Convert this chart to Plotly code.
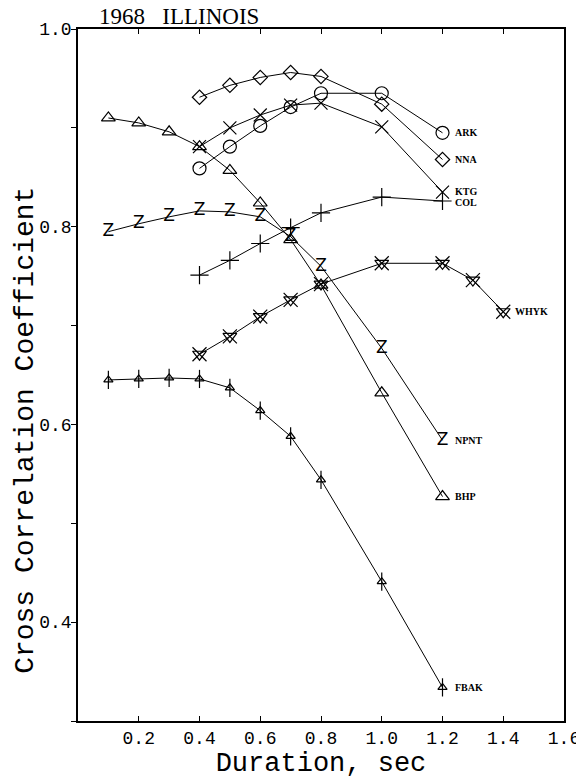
import plotly.graph_objects as go

# ---- data ----
x_short = [0.4, 0.5, 0.6, 0.7, 0.8, 1.0, 1.2]
ark = [0.859, 0.881, 0.902, 0.921, 0.935, 0.935, 0.895]
nna = [0.931, 0.943, 0.951, 0.956, 0.952, 0.924, 0.868]
ktg = [0.881, 0.900, 0.913, 0.923, 0.925, 0.901, 0.835]
col = [0.751, 0.766, 0.783, 0.799, 0.814, 0.830, 0.826]

x_long = [0.1, 0.2, 0.3, 0.4, 0.5, 0.6, 0.7, 0.8, 1.0, 1.2]
bhp = [0.910, 0.905, 0.896, 0.881, 0.857, 0.824, 0.787, 0.741, 0.632, 0.527]
npnt = [0.795, 0.803, 0.810, 0.816, 0.815, 0.810, 0.790, 0.760, 0.677, 0.584]
fbak = [0.645, 0.646, 0.647, 0.646, 0.637, 0.614, 0.588, 0.544, 0.441, 0.334]

x_whyk = [0.4, 0.5, 0.6, 0.7, 0.8, 1.0, 1.2, 1.3, 1.4]
whyk = [0.671, 0.689, 0.709, 0.726, 0.742, 0.763, 0.763, 0.746, 0.714]

x_ticks = [0.2, 0.4, 0.6, 0.8, 1.0, 1.2, 1.4, 1.6]
x_ticktext = ["0.2", "0.4", "0.6", "0.8", "1.0", "1.2", "1.4", "1.6"]
y_ticks = [0.3, 0.4, 0.5, 0.6, 0.7, 0.8, 0.9, 1.0]
y_ticktext = ["", "0.4", "", "0.6", "", "0.8", "", "1.0"]

title_text = "1968\u00a0\u00a0\u00a0ILLINOIS"
x_title = "Duration, sec"
y_title = "Cross Correlation Coefficient"

BLACK = "black"
# the page body has an 8px margin, so the figure is offset by 8px
W, H = 584, 779
fig = go.Figure()

def add_series(x, y, symbol, size, name):
    fig.add_trace(go.Scatter(
        x=x, y=y, mode="lines+markers", name=name,
        line=dict(color=BLACK, width=1),
        marker=dict(symbol=symbol, size=size, color=BLACK,
                    line=dict(color=BLACK, width=1.2)),
        showlegend=False, cliponaxis=False))

def add_overlay(x, y, symbol, size):
    fig.add_trace(go.Scatter(
        x=x, y=y, mode="markers",
        marker=dict(symbol=symbol, size=size, color=BLACK,
                    line=dict(color=BLACK, width=1.2)),
        showlegend=False, cliponaxis=False, hoverinfo="skip"))

add_series(x_short, ark, "circle-open", 13, "ARK")
add_series(x_short, nna, "diamond-open", 11, "NNA")
add_series(x_short, ktg, "x-thin-open", 13, "KTG")
add_series(x_short, col, "cross-thin-open", 13, "COL")
add_series(x_long, bhp, "triangle-up-open", 12, "BHP")
add_series(x_whyk, whyk, "x-thin-open", 14, "WHYK")
add_overlay(x_whyk, whyk, "triangle-down-open", 12)
add_series(x_long, fbak, "line-ns-open", 13, "FBAK")
add_overlay(x_long, fbak, "triangle-up-open", 8)

# NPNT drawn with a "Z" plotting symbol
fig.add_trace(go.Scatter(
    x=x_long, y=npnt, mode="lines+text", text=["Z"] * len(x_long),
    textposition="middle center",
    textfont=dict(family="DejaVu Sans", size=17, color=BLACK),
    line=dict(color=BLACK, width=1), showlegend=False, cliponaxis=False))

# end labels
labels = [
    ("ARK", x_short, ark, 0), ("NNA", x_short, nna, 0), ("KTG", x_short, ktg, 1),
    ("COL", x_short, col, -1), ("WHYK", x_whyk, whyk, 0), ("NPNT", x_long, npnt, 0),
    ("BHP", x_long, bhp, 0), ("FBAK", x_long, fbak, 0),
]
for name, xs, ys, dy in labels:
    fig.add_annotation(x=xs[-1], y=ys[-1], text="<b>%s</b>" % name,
                       xanchor="left", yanchor="middle", xshift=10, yshift=dy,
                       showarrow=False,
                       font=dict(family="Liberation Serif", size=10, color=BLACK))

fig.add_annotation(xref="paper", yref="paper", x=-0.108, y=0.42,
                   text=y_title, textangle=-90, showarrow=False,
                   xanchor="center", yanchor="middle",
                   font=dict(family="Liberation Mono", size=28, color=BLACK))

fig.update_layout(
    width=W, height=H,
    margin=dict(l=70, r=24, t=21, b=66),
    paper_bgcolor="white", plot_bgcolor="white",
    title=dict(text=title_text, x=91 / W, xanchor="left",
               y=1.0, yanchor="top",
               font=dict(family="Liberation Serif", size=23, color=BLACK)),
    xaxis=dict(range=[0, 1.6], tickvals=x_ticks, ticktext=x_ticktext,
               ticks="inside", ticklen=5, tickcolor=BLACK,
               showline=True, linecolor=BLACK, linewidth=1.5, mirror="ticks",
               showgrid=False, zeroline=False,
               tickfont=dict(family="Liberation Mono", size=18, color=BLACK),
               title=dict(text=x_title, standoff=2,
                          font=dict(family="Liberation Mono", size=27, color=BLACK))),
    yaxis=dict(range=[0.3, 1.0], tickvals=y_ticks, ticktext=y_ticktext,
               ticks="outside", ticklen=5, tickcolor=BLACK,
               ticklabelstandoff=-4,
               showline=True, linecolor=BLACK, linewidth=1.5, mirror=True,
               showgrid=False, zeroline=False,
               tickfont=dict(family="Liberation Mono", size=18, color=BLACK)),
    yaxis2=dict(range=[0.3, 1.0], overlaying="y", side="right",
                tickvals=y_ticks, showticklabels=False,
                ticks="inside", ticklen=5, tickcolor=BLACK,
                showline=False, showgrid=False, zeroline=False),
)

fig.write_html("out.html")
